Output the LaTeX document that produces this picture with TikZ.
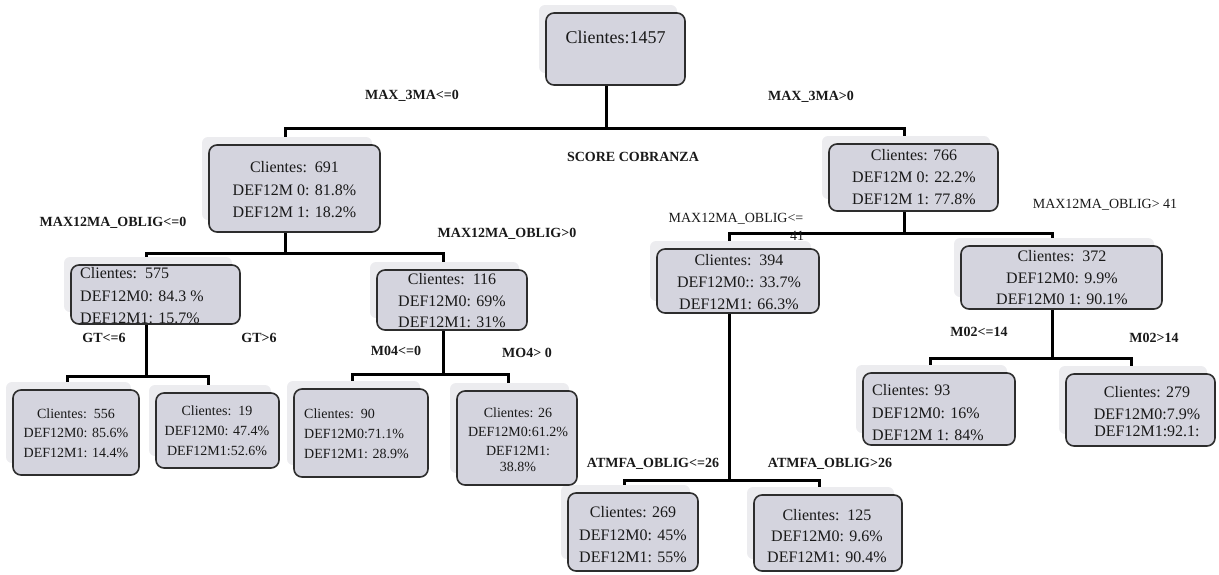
\documentclass[tikz,border=0pt]{standalone}
\usepackage{fontspec}
\setmainfont{Liberation Serif}
\usetikzlibrary{calc}
\pgfdeclarelayer{shadowlayer}
\pgfdeclarelayer{linelayer}
\pgfsetlayers{shadowlayer,linelayer,main}
\definecolor{boxfill}{RGB}{212,212,222}
\definecolor{boxline}{RGB}{45,45,45}
\definecolor{shadowc}{RGB}{236,236,239}
\tikzset{
 dboxstyle/.style={draw=boxline, line width=1.6pt, fill=boxfill, rounded corners=8pt, inner sep=0pt, outer sep=0pt},
 shadowfill/.style={fill=shadowc, rounded corners=6pt},
 conn/.style={draw=black, line width=3pt},
 txt/.style={inner sep=0pt, align=center, text=black!90},
 txtl/.style={inner sep=0pt, align=left, text=black!90, anchor=north west},
 lbl/.style={inner sep=0pt, anchor=base, text=black!90, font=\bfseries\fontsize{14}{16}\selectfont},
 rlbl/.style={inner sep=0pt, anchor=base, text=black!90, font=\fontsize{14}{16}\selectfont},
}
\newcommand\dbox[5]{%
  \begin{pgfonlayer}{shadowlayer}
    \fill[shadowfill] (#2-7,-#3+8) rectangle (#4-8,-#5+12);
  \end{pgfonlayer}
  \node[dboxstyle, minimum width=#4-#2, minimum height=#5-#3] (#1) at ({(#2+#4)/2},{-(#3+#5)/2}) {};
}
\begin{document}
\begin{tikzpicture}[x=1pt,y=1pt]
\useasboundingbox (0,0) rectangle (1219,-574);
% boxes
\dbox{root}{546}{13}{685}{85}
\dbox{n691}{209}{145}{380}{232}
\dbox{n766}{829}{144}{998}{211}
\dbox{n575}{71}{265}{240}{324}
\dbox{n116}{377}{270}{527}{330}
\dbox{n394}{657}{249}{819}{313}
\dbox{n372}{961}{246}{1162}{309}
\dbox{n556}{13}{390}{139}{475}
\dbox{n19}{156}{393}{279}{468}
\dbox{n90}{294}{389}{428}{477}
\dbox{n26}{457}{391}{577}{485}
\dbox{n93}{863}{373}{1015}{445}
\dbox{n279}{1066}{374}{1215}{446}
\dbox{n269}{568}{493}{698}{571}
\dbox{n125}{754}{495}{902}{571}
% texts
\node[txt, anchor=north, font=\fontsize{18}{22}\selectfont] (troot) at (615.5,-30.7) {Clientes:1457};
\node[txt, anchor=north, font=\fontsize{16}{22.5}\selectfont] (t691) at (294.5,-161.4) {Clientes:\ \ 691\\DEF12M 0: 81.8\%\\DEF12M 1: 18.2\%};
\node[txt, anchor=north, font=\fontsize{16}{22}\selectfont] (t766) at (914,-149.4) {Clientes: 766\\DEF12M 0: 22.2\%\\DEF12M 1: 77.8\%};
\node[txtl, font=\fontsize{16}{22.5}\selectfont] (t575) at (80,-267.4) {Clientes:\ \ 575\\DEF12M0: 84.3 \%\\DEF12M1: 15.7\%};
\node[txt, anchor=north, font=\fontsize{16}{21.5}\selectfont] (t116) at (452,-273.4) {Clientes:\ \ 116\\DEF12M0: 69\%\\DEF12M1: 31\%};
\node[txt, anchor=north, font=\fontsize{16}{22}\selectfont] (t394) at (739,-254.4) {Clientes:\ \ 394\\DEF12M0:: 33.7\%\\DEF12M1: 66.3\%};
\node[txt, anchor=north, font=\fontsize{16}{21.5}\selectfont] (t372) at (1062,-250.4) {Clientes:\ \ 372\\DEF12M0: 9.9\%\\DEF12M0 1: 90.1\%};
\node[txt, anchor=north, font=\fontsize{14}{19.5}\selectfont] (t556) at (76,-408.1) {Clientes:\ \ 556\\DEF12M0: 85.6\%\\DEF12M1: 14.4\%};
\node[txt, anchor=north, font=\fontsize{14}{20}\selectfont] (t19) at (217,-405.1) {Clientes:\ \ 19\\DEF12M0: 47.4\%\\DEF12M1:52.6\%};
\node[txtl, font=\fontsize{14}{20}\selectfont] (t90) at (304,-408.1) {Clientes:\ \ 90\\DEF12M0:71.1\%\\DEF12M1: 28.9\%};
\node[txt, anchor=north, font=\fontsize{14}{19}\selectfont] (t26) at (518,-407.1) {Clientes: 26\\DEF12M0:61.2\%\\DEF12M1:\\[-3pt]38.8\%};
\node[txtl, font=\fontsize{16}{22.5}\selectfont] (t93) at (872,-384.4) {Clientes: 93\\DEF12M0: 16\%\\DEF12M 1: 84\%};
\node[txt, anchor=north, font=\fontsize{16}{22}\selectfont] (t279) at (1147,-386.4) {Clientes: 279\\DEF12M0:7.9\%\\[-5pt]DEF12M1:92.1:};
\node[txt, anchor=north, font=\fontsize{16}{22.5}\selectfont] (t269) at (633,-506.4) {Clientes: 269\\DEF12M0: 45\%\\DEF12M1: 55\%};
\node[txt, anchor=north, font=\fontsize{16}{21}\selectfont] (t125) at (827,-509.4) {Clientes:\ \ 125\\DEF12M0: 9.6\%\\DEF12M1: 90.4\%};
% labels
\node[lbl] (l1) at (412,-99.6) {MAX\_3MA<=0};
\node[lbl] (l2) at (811,-100.6) {MAX\_3MA>0};
\node[lbl] (l3) at (633,-161.6) {SCORE COBRANZA};
\node[lbl] (l4) at (113,-226.6) {MAX12MA\_OBLIG<=0};
\node[lbl] (l5) at (507,-237.6) {MAX12MA\_OBLIG>0};
\node[lbl] (l6) at (104,-342.6) {GT<=6};
\node[lbl] (l7) at (259,-342.6) {GT>6};
\node[lbl] (l8) at (396,-355.6) {M04<=0};
\node[lbl] (l9) at (527,-357.6) {MO4> 0};
\node[rlbl] (l10) at (736,-222.6) {MAX12MA\_OBLIG<=};
\node[rlbl] (l11) at (797,-240.6) {41};
\node[rlbl] (l12) at (1105,-208.6) {MAX12MA\_OBLIG> 41};
\node[lbl] (l13) at (979,-336.6) {M02<=14};
\node[lbl] (l14) at (1154,-342.6) {M02>14};
\node[lbl] (l15) at (653,-467.6) {ATMFA\_OBLIG<=26};
\node[lbl] (l16) at (830,-467.6) {ATMFA\_OBLIG>26};
% connectors
\begin{pgfonlayer}{linelayer}
\draw[conn] ([xshift=-9pt]root.south) -- ++(0,-43) -| ([xshift=-9pt,yshift=8pt]n691.north);
\draw[conn] ([xshift=-9pt]root.south) -- ++(0,-43) -| ([xshift=-9pt,yshift=8pt]n766.north);
\draw[conn] ([xshift=-9pt]n691.south) -- ++(0,-21) -| ([xshift=-9pt,yshift=8pt]n575.north);
\draw[conn] ([xshift=-9pt]n691.south) -- ++(0,-21) -| ([xshift=-9pt,yshift=8pt]n116.north);
\draw[conn] ([xshift=-9pt]n575.south) -- ++(0,-52) -| ([xshift=-9pt,yshift=8pt]n556.north);
\draw[conn] ([xshift=-9pt]n575.south) -- ++(0,-52) -| ([xshift=-9pt,yshift=8pt]n19.north);
\draw[conn] ([xshift=-9pt]n116.south) -- ++(0,-44) -| ([xshift=-9pt,yshift=8pt]n90.north);
\draw[conn] ([xshift=-9pt]n116.south) -- ++(0,-44) -| ([xshift=-9pt,yshift=8pt]n26.north);
\draw[conn] ([xshift=-9pt]n766.south) -- ++(0,-22) -| ([xshift=-9pt,yshift=8pt]n394.north);
\draw[conn] ([xshift=-9pt]n766.south) -- ++(0,-22) -| ([xshift=-9pt,yshift=8pt]n372.north);
\draw[conn] ([xshift=-9pt]n394.south) -- ++(0,-167) -| ([xshift=-9pt,yshift=8pt]n269.north);
\draw[conn] ([xshift=-9pt]n394.south) -- ++(0,-167) -| ([xshift=-9pt,yshift=8pt]n125.north);
\draw[conn] ([xshift=-9pt]n372.south) -- ++(0,-49) -| ([xshift=-9pt,yshift=8pt]n93.north);
\draw[conn] ([xshift=-9pt]n372.south) -- ++(0,-49) -| ([xshift=-9pt,yshift=8pt]n279.north);
\end{pgfonlayer}
\end{tikzpicture}
\end{document}
